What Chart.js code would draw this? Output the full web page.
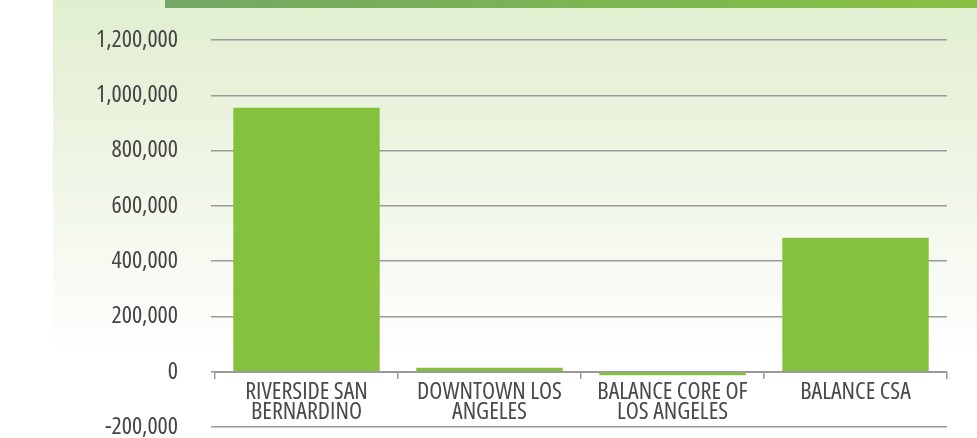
<!DOCTYPE html>
<html>
<head>
<meta charset="utf-8">
<script src="https://cdn.jsdelivr.net/npm/chart.js@4/dist/chart.umd.min.js"></script>
<style>
  html, body { margin: 0; padding: 0; background: #fff; }
  #wrap { width: 977px; height: 438px; }
</style>
</head>
<body>
<div id="wrap"><canvas id="mycanvas" width="977" height="438"></canvas></div>
<script>
var regions = [
  ['RIVERSIDE SAN', 'BERNARDINO'],
  ['DOWNTOWN LOS', 'ANGELES'],
  ['BALANCE CORE OF', 'LOS ANGELES'],
  ['BALANCE CSA']
];
var growth = [955000, 14000, -13000, 485000];
var yMin = -200000;
var yMax = 1200000;
var yStep = 200000;

// "condensed" goes in the weight slot so the font string reads "normal condensed 24px Open Sans"
var labelFont = { family: '"Open Sans", sans-serif', weight: 'condensed', size: 24 };

// green panel + header strip behind the chart
var backdrop = {
  id: 'backdrop',
  beforeDraw: function (chart) {
    var ctx = chart.ctx;
    ctx.save();
    var g = ctx.createLinearGradient(0, 0, 0, 360);
    g.addColorStop(0, '#e1eecf');
    g.addColorStop(0.45, '#eef5e4');
    g.addColorStop(1, '#ffffff');
    ctx.fillStyle = g;
    ctx.fillRect(53, 0, chart.width - 53, 360);
    var h = ctx.createLinearGradient(165, 0, chart.width, 0);
    h.addColorStop(0, '#72a764');
    h.addColorStop(0.5, '#7bb553');
    h.addColorStop(1, '#86c043');
    ctx.fillStyle = h;
    ctx.fillRect(165, 0, chart.width - 165, 8);
    ctx.restore();
  }
};

new Chart(document.getElementById('mycanvas'), {
  type: 'bar',
  data: {
    labels: regions,
    datasets: [{
      label: 'Growth',
      data: growth,
      backgroundColor: '#86c13d',
      barPercentage: 0.8,
      categoryPercentage: 1.0
    }]
  },
  options: {
    responsive: false,
    animation: false,
    layout: { padding: { top: 40, bottom: 11, right: 30, left: 0 } },
    plugins: { legend: { display: false }, tooltip: { enabled: false } },
    scales: {
      x: {
        position: { y: 0 },
        afterFit: function (scale) { scale.height = 0; },
        grid: {
          offset: true,
          drawOnChartArea: false,
          drawTicks: true,
          tickLength: 6,
          color: '#9a9a9a',
          lineWidth: 1.5
        },
        border: { display: true, color: '#9a9a9a', width: 2 },
        ticks: {
          color: '#4a4a4a',
          font: Object.assign({ lineHeight: 0.84 }, labelFont),
          padding: 4,
          maxRotation: 0,
          autoSkip: false
        }
      },
      y: {
        min: yMin,
        max: yMax,
        afterFit: function (scale) {
          scale.width = 215;
          scale.paddingTop = 0;
          scale.paddingBottom = 0;
        },
        grid: { color: '#9a9a9a', lineWidth: 1.5, drawTicks: true, tickLength: 4 },
        border: { display: false },
        ticks: {
          stepSize: yStep,
          padding: 33,
          color: '#444',
          font: labelFont,
          callback: function (v) { return v.toLocaleString('en-US'); }
        }
      }
    }
  },
  plugins: [backdrop]
});
</script>
</body>
</html>
